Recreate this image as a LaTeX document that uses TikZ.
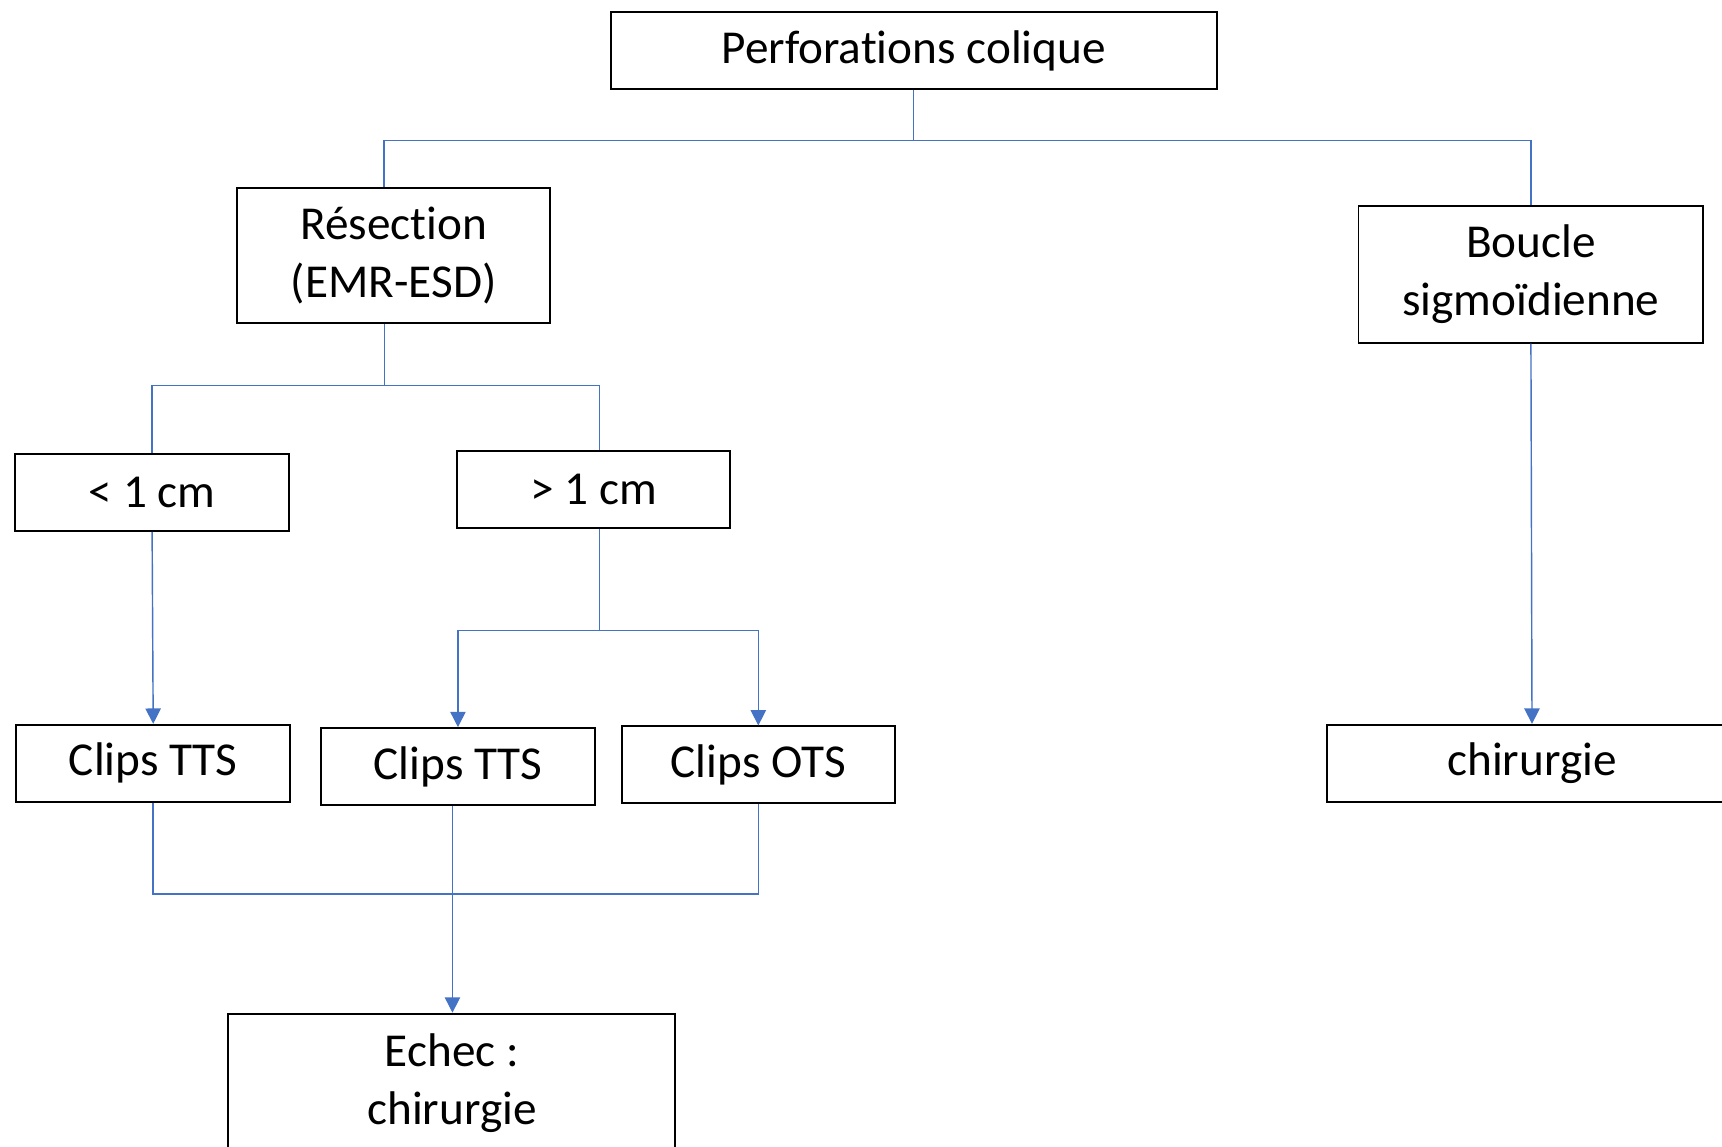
\documentclass[tikz,border=0pt]{standalone}
\usepackage{fontspec}
\setmainfont{Carlito}[Ligatures=NoCommon]
\usetikzlibrary{arrows.meta}
\definecolor{linkblue}{HTML}{4472C4}

\begin{document}
\begin{tikzpicture}[x=1pt,y=-1pt,
    box/.style={draw,line width=1.8pt,inner sep=0pt,align=center,
      minimum width=249pt,minimum height=70pt,font=\fontsize{43}{53}\selectfont},
    link/.style={draw=linkblue,line width=1.3pt},
    arr/.style={link,-{Triangle[width=14pt,length=14pt]}}]
  \useasboundingbox (0,0) rectangle (1568,1044);
  \node[box,minimum width=552pt] (p) at (832,46) {Perforations colique};
  \node[box,minimum width=285pt,minimum height=123pt] (r) at (358.5,232.5) {Résection\\(EMR-ESD)};
  \node[box,minimum width=314pt,minimum height=124pt] (b) at (1394,250) {Boucle\\sigmoïdienne};
  \node[box] (l) at (138.5,448.5) {< 1 cm};
  \node[box] (g) at (540.5,446) {> 1 cm};
  \node[box] (t1) at (139.5,695) {Clips TTS};
  \node[box] (t2) at (417,698) {Clips TTS};
  \node[box] (o) at (690.5,696.5) {Clips OTS};
  \node[box,minimum width=374pt] (c) at (1395,695) {chirurgie};
  \node[box,minimum width=407pt,minimum height=126pt] (e) at (411.5,986) {Echec :\\chirurgie};
  \coordinate (pj) at (832,128);
  \coordinate (rj) at (350,351);
  \coordinate (gj) at (546,574);
  \coordinate (tj) at (412,814);
  \draw[link] (p.south) -- (pj);
  \draw[link] ([xshift=-9pt]r.north) |- (pj) -| (b.north);
  \draw[link] (r.south -| rj) -- (rj);
  \draw[link] (l.north) |- (rj) -| ([xshift=5.5pt]g.north);
  \draw[link] (g.south -| gj) -- (gj);
  \draw[arr] (gj) -| (t2.north);
  \draw[arr] (gj) -| (o.north);
  \draw[arr] (l.south) -- (t1.north);
  \draw[arr] (b.south) -- (c.north);
  \draw[link] (t1.south) |- (o.south |- tj) -- (o.south);
  \draw[arr] (t2.south -| tj) -- (e.north -| tj);
\end{tikzpicture}
\end{document}
